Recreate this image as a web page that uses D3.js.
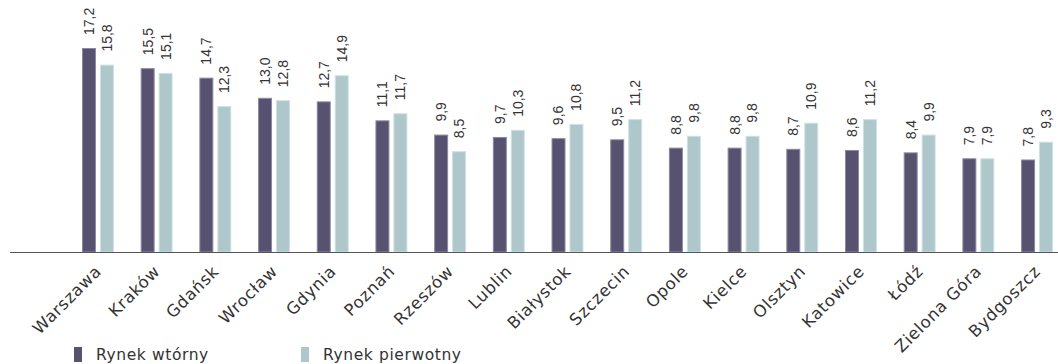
<!DOCTYPE html>
<html>
<head>
<meta charset="utf-8">
<script src="https://cdn.jsdelivr.net/npm/d3@7"></script>
<style>
body{margin:0;background:#fff}
svg{display:block}
</style>
</head>
<body>
<svg id="chart" width="1058" height="364"></svg>
<script>
var cities = ['Warszawa','Kraków','Gdańsk','Wrocław','Gdynia','Poznań','Rzeszów','Lublin','Białystok','Szczecin','Opole','Kielce','Olsztyn','Katowice','Łódź','Zielona Góra','Bydgoszcz']
var wtorny = [17.2,15.5,14.7,13.0,12.7,11.1,9.9,9.7,9.6,9.5,8.8,8.8,8.7,8.6,8.4,7.9,7.8]
var pierwotny = [15.8,15.1,12.3,12.8,14.9,11.7,8.5,10.3,10.8,11.2,9.8,9.8,10.9,11.2,9.9,7.9,9.3]
var seriesNames = ['Rynek wtórny','Rynek pierwotny']
var colors = ['#57526f','#adc7cb']
var strokes = ['#8c88a2','#cfe0e2']

var svg = d3.select('#chart')

var x = d3.scaleBand().domain(cities).range([68.6,1066.4])
var bw = x.bandwidth()
var sub = d3.scaleBand().domain([0,1]).range([bw*0.228,bw*0.772]).paddingInner(0.222)
var y = d3.scaleLinear().domain([0,17.2]).range([252,48])

var rows = cities.map((c,i)=>({city:c,vals:[wtorny[i],pierwotny[i]]}))

var groups = svg.append('g').attr('id','bars')
	.selectAll('g').data(rows).join('g')
	.attr('transform',d=>`translate(${x(d.city)},0)`)

groups.selectAll('rect').data(d=>d.vals.map((v,k)=>({v:v,k:k}))).join('rect')
	.attr('x',d=>sub(d.k)+0.5)
	.attr('width',sub.bandwidth()-1)
	.attr('y',d=>y(d.v)+0.5)
	.attr('height',d=>y(0)-y(d.v)-0.5)
	.attr('fill',d=>colors[d.k])
	.attr('stroke',d=>strokes[d.k])
	.attr('stroke-width',1)

groups.selectAll('text').data(d=>d.vals.map((v,k)=>({v:v,k:k}))).join('text')
	.attr('transform',d=>`translate(${sub(d.k)+sub.bandwidth()/2},${y(d.v)-13}) rotate(-90)`)
	.attr('dy','0.35em')
	.attr('text-anchor','start')
	.style('font-family','Liberation Sans, Arial, sans-serif')
	.style('font-size','14px')
	.style('fill','#333')
	.text(d=>d.v.toFixed(1).replace('.',','))

// axis line
svg.append('line')
	.attr('x1',10).attr('x2',1058)
	.attr('y1',y(0)+0.5).attr('y2',y(0)+0.5)
	.attr('stroke','#555').attr('stroke-width',1.2)

svg.append('g').attr('id','labels')
	.selectAll('text').data(cities).join('text')
	.attr('transform',d=>`translate(${x(d)+bw/2-4},${y(0)+12}) rotate(-45)`)
	.attr('text-anchor','end')
	.attr('dy','0.72em')
	.style('font-family','DejaVu Sans, sans-serif')
	.style('font-size','16.5px')
	.style('letter-spacing','0.7px')
	.style('fill','#333')
	.text(d=>d)

var legendX = [74,301]
var legend = svg.append('g').attr('id','legend')
	.selectAll('g').data(seriesNames).join('g')
	.attr('transform',(d,i)=>`translate(${legendX[i]},347)`)
legend.append('rect').attr('width',8).attr('height',15).attr('fill',(d,i)=>colors[i])
legend.append('text').attr('x',22).attr('y',13)
	.style('font-family','DejaVu Sans, sans-serif')
	.style('font-size','15.5px')
	.style('letter-spacing','0.6px')
	.style('fill','#333')
	.text(d=>d)
</script>
</body>
</html>
